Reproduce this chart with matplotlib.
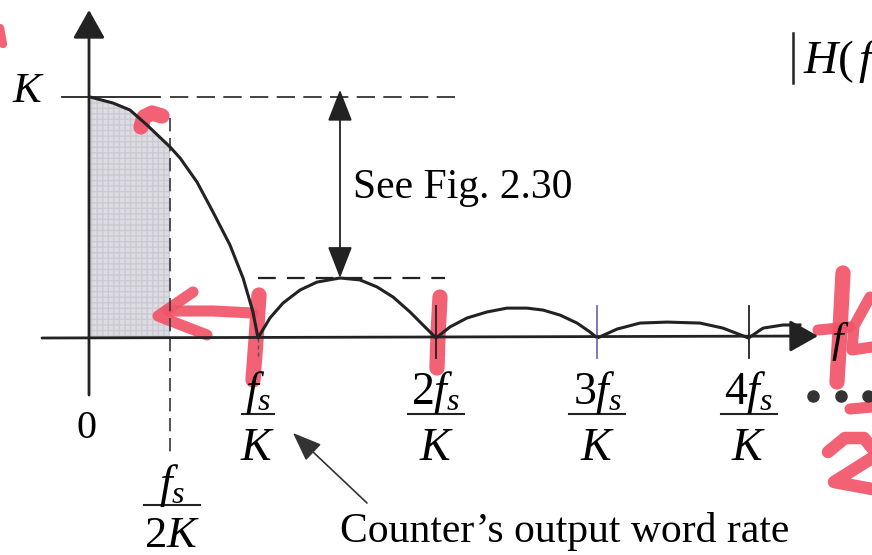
"""Magnitude response of the counter (accumulate-and-dump) filter."""

import matplotlib.pyplot as plt
from matplotlib.patches import FancyArrowPatch

plt.rcParams["font.family"] = ["Liberation Serif", "DejaVu Serif"]
plt.rcParams["mathtext.fontset"] = "custom"
plt.rcParams["mathtext.rm"] = "Liberation Serif"
plt.rcParams["mathtext.it"] = "Liberation Serif:italic"

# frequency in units of fs/K, magnitude in units of K
freq = [0.0, 0.137, 0.238, 0.339, 0.476, 0.536, 0.637, 0.732, 0.833, 0.911, 0.970, 1.0,
        1.071, 1.149, 1.25, 1.351, 1.488, 1.607, 1.708, 1.804, 1.905, 1.982, 2.06,
        2.143, 2.244, 2.363, 2.482, 2.601, 2.696, 2.798, 2.899, 2.976, 3.02,
        3.137, 3.274, 3.435, 3.631, 3.768, 3.92,
        4.006, 4.125, 4.226]
mag = [1.0, 0.975, 0.946, 0.884, 0.793, 0.747, 0.647, 0.523, 0.386, 0.249, 0.108, 0.0,
       0.083, 0.145, 0.199, 0.232, 0.249, 0.241, 0.212, 0.170, 0.108, 0.054, 0.0,
       0.046, 0.083, 0.108, 0.124, 0.124, 0.116, 0.095, 0.062, 0.025, 0.0,
       0.037, 0.062, 0.066, 0.062, 0.041, 0.0,
       0.041, 0.054, 0.054]

null_freqs = [1.0, 2.06, 3.02, 3.92]
null_nums = [r"$f_s$", r"$2f_s$", r"$3f_s$", r"$4f_s$"]
half_rate = 0.476
dc_gain = 1.0

# handwritten red marker strokes, image pixel coordinates
red_strokes = [
    ([(0, 28), (3, 44)], 6),
    ([(141, 127), (144, 117), (152, 113), (162, 116)], 11),
    ([(253, 313), (213, 311), (168, 311)], 8),
    ([(193, 292), (158, 316), (207, 335)], 8),
    ([(259, 295), (256, 340), (253, 380)], 11),
    ([(440, 297), (438, 335), (437, 368)], 11),
    ([(843, 273), (840, 330), (837, 382)], 11),
    ([(818, 330), (850, 327)], 8),
    ([(870, 297), (854, 326), (852, 350), (872, 347)], 8),
    ([(850, 409), (872, 407)], 8),
    ([(828, 452), (845, 438), (864, 438), (872, 448)], 9),
    ([(872, 458), (834, 482), (872, 489)], 9),
]
RED = "#f25468"


def px(x, y):
    """Image pixel position to axes data units."""
    return (x - 90) / 168, (338 - y) / 241


fig = plt.figure(figsize=(8.72, 5.55), dpi=100)
ax = fig.add_axes([0, 0, 1, 1])
ax.set_xlim(px(0, 0)[0], px(872, 0)[0])
ax.set_ylim(px(0, 555)[1], px(0, 0)[1])
ax.axis("off")

# shaded passband up to fs/2K
n_pass = sum(f <= half_rate for f in freq)
ax.fill_between(freq[:n_pass], mag[:n_pass], 0, facecolor="#dddce2",
                edgecolor="#cbcad2", hatch="+++", linewidth=0, zorder=0)

for pts, w in red_strokes:
    xs, ys = zip(*[px(*p) for p in pts])
    ax.plot(xs, ys, color=RED, lw=w, solid_capstyle="round",
            solid_joinstyle="round", alpha=0.92, zorder=1)

# axes with arrowheads
for start, tip in [(px(42, 338), px(818, 336)), (px(89, 395), px(89, 10))]:
    ax.annotate("", xy=tip, xytext=start, zorder=4,
                arrowprops=dict(arrowstyle="-|>,head_length=0.8,head_width=0.45",
                                lw=2, color="#222222", shrinkA=0, shrinkB=0,
                                mutation_scale=22))

ax.plot(freq, mag, color="#222222", lw=2.2, solid_joinstyle="round", zorder=3)

# K level and first side-lobe level
lobe1 = [m for f, m in zip(freq, mag) if null_freqs[0] < f < null_freqs[1]]
peak = max(lobe1)
peak_f = freq[mag.index(peak, freq.index(null_freqs[0]))]
ax.plot([px(62, 0)[0], px(160, 0)[0]], [dc_gain] * 2, color="#222222", lw=1.3)
ax.plot([px(170, 0)[0], px(455, 0)[0]], [dc_gain] * 2, color="#222222", lw=1.2,
        dashes=(11, 5))
ax.plot([null_freqs[0], px(445, 0)[0]], [peak] * 2, color="#222222", lw=1.6,
        dashes=(8, 5))
ax.plot([half_rate] * 2, [px(0, 118)[1], px(0, 452)[1]], color="#333344", lw=1.2,
        dashes=(8, 4))

ax.add_patch(FancyArrowPatch((peak_f, dc_gain + 0.03), (peak_f, peak),
                             arrowstyle="<|-|>,head_length=0.9,head_width=0.35",
                             mutation_scale=22, lw=1.3, color="#222222",
                             shrinkA=0, shrinkB=0, zorder=3))

# null tick marks
ax.plot([null_freqs[0]] * 2, [0, px(0, 358)[1]], color="#555555", lw=1, dashes=(3, 2))
for f, c in zip(null_freqs[1:], ["#222222", "#7a6aa8", "#222222"]):
    ax.plot([f, f], [px(0, 306)[1], px(0, 358)[1]], color=c, lw=1.3, zorder=3)

# fraction labels under the axis
fsz = 33
for f, num in zip(null_freqs, null_nums):
    hw = 16 / 168 if num == r"$f_s$" else 28 / 168
    ax.plot([f - hw, f + hw], [px(0, 414)[1]] * 2, color="#222222", lw=1.5)
    ax.text(f, px(0, 404)[1], num, fontsize=fsz, ha="center", va="baseline")
    ax.text(f, px(0, 460)[1], r"$K$", fontsize=fsz, ha="center", va="baseline")

hx = half_rate + 2 / 168
ax.plot([hx - 28 / 168, hx + 28 / 168], [px(0, 505)[1]] * 2, color="#222222", lw=1.5)
ax.text(hx, px(0, 497)[1], r"$f_s$", fontsize=fsz, ha="center", va="baseline")
ax.text(hx, px(0, 547)[1], r"$2K$", fontsize=32, ha="center", va="baseline")

ax.text(*px(29, 102), r"$K$", fontsize=31, ha="center", va="baseline")
ax.text(*px(86, 438), "0", fontsize=29, ha="center", va="baseline")
ax.text(*px(353, 198), "See Fig. 2.30", fontsize=30, ha="left", va="baseline")
ax.text(*px(340, 542), "Counter\u2019s output word rate", fontsize=30,
        ha="left", va="baseline")
ax.text(*px(840, 352), r"$f$", fontsize=30, ha="center", va="baseline", zorder=5)

bx = px(793, 0)[0]
ax.plot([bx, bx], [px(0, 33)[1], px(0, 83)[1]], color="#222222", lw=1.8)
ax.text(*px(803, 73), r"$H($", fontsize=34, ha="left", va="baseline")
ax.text(*px(858, 73), r"$f$", fontsize=34, ha="left", va="baseline")

dots = [px(813, 396), px(841, 396), px(868, 396)]
ax.plot([d[0] for d in dots], [d[1] for d in dots], "o", color="#333333", ms=8, zorder=4)

ax.annotate("", xy=px(293, 433), xytext=px(367, 503),
            arrowprops=dict(arrowstyle="-|>,head_length=0.9,head_width=0.35",
                            lw=1.2, color="#333333", shrinkA=0, shrinkB=0,
                            mutation_scale=20))

fig.savefig("out.png", dpi=100)
